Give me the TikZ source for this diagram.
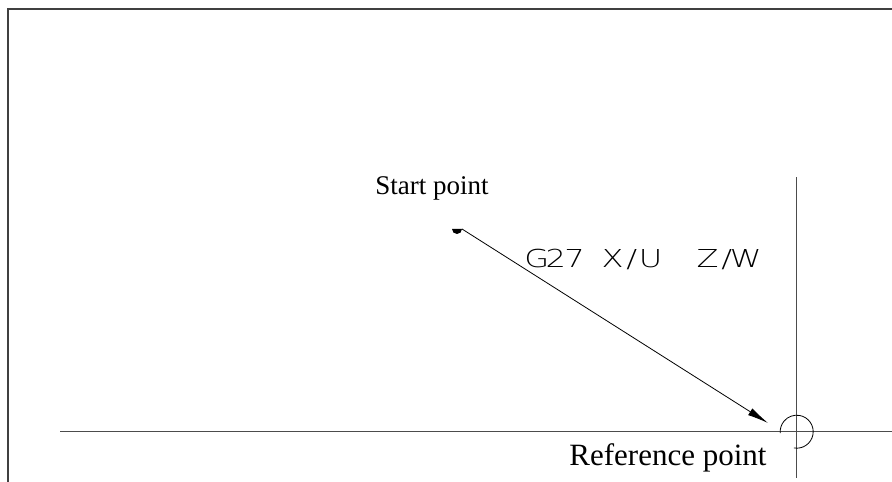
\documentclass[tikz,border=0pt]{standalone}
\usepackage{fontspec}
\setmainfont{Liberation Serif}
\newfontfamily\cadfont[FakeStretch=1.3]{DejaVu Sans ExtraLight}
\newcommand{\cadch}[1]{\makebox[19pt]{#1}}
\usetikzlibrary{arrows.meta, positioning}

\begin{document}
\begin{tikzpicture}[x=1pt, y=1pt]
                \def\rx{796.7}
                \def\ry{50.3}
                \def\rr{16.5}
                \useasboundingbox (0, 0) rectangle (892, 482);
                % frame
                \draw[line width=2pt, black!75] (8, 0) -- (8, 473) -- (892, 473);
                % axes through the reference point
                \coordinate (refpt) at (\rx, \ry);
                \draw[line width=1.4pt, black!70] (60, \ry) -- (892, \ry);
                \draw[line width=1.4pt, black!70] (\rx, 4) -- (\rx, 305);
                \draw[line width=0.8pt] (refpt) ++(-100:\rr) arc[start angle=-100, end angle=185, radius=\rr];

                % start point marker
                \coordinate (startpt) at (457, 253);
                \fill (startpt) ++(-5, 0) arc[start angle=180, end angle=360, radius=5] -- cycle;
                \coordinate (startend) at (462, 253);
                \coordinate (tip) at (768, 59);
                \draw[-{Latex[length=21pt, width=8pt]}, line width=0.8pt] (startend) -- (tip);

                \node (start) at (432, 287)[anchor=base, inner sep=0pt]
                    {\fontsize{27}{30}\selectfont Start point};
                \node (ref) at (668, 16)[anchor=base, inner sep=0pt]
                    {\fontsize{31}{34}\selectfont Reference point};
                \node (cmd) at (527, 214.7)[anchor=base west, inner sep=0pt]
                    {\cadfont\fontsize{24.7}{28}\selectfont
                     \cadch{G}\cadch{2}\cadch{7}\cadch{}\cadch{X}\cadch{/}\cadch{U}\cadch{}\cadch{}\cadch{Z}\cadch{/}\cadch{W}};
            \end{tikzpicture}
\end{document}
